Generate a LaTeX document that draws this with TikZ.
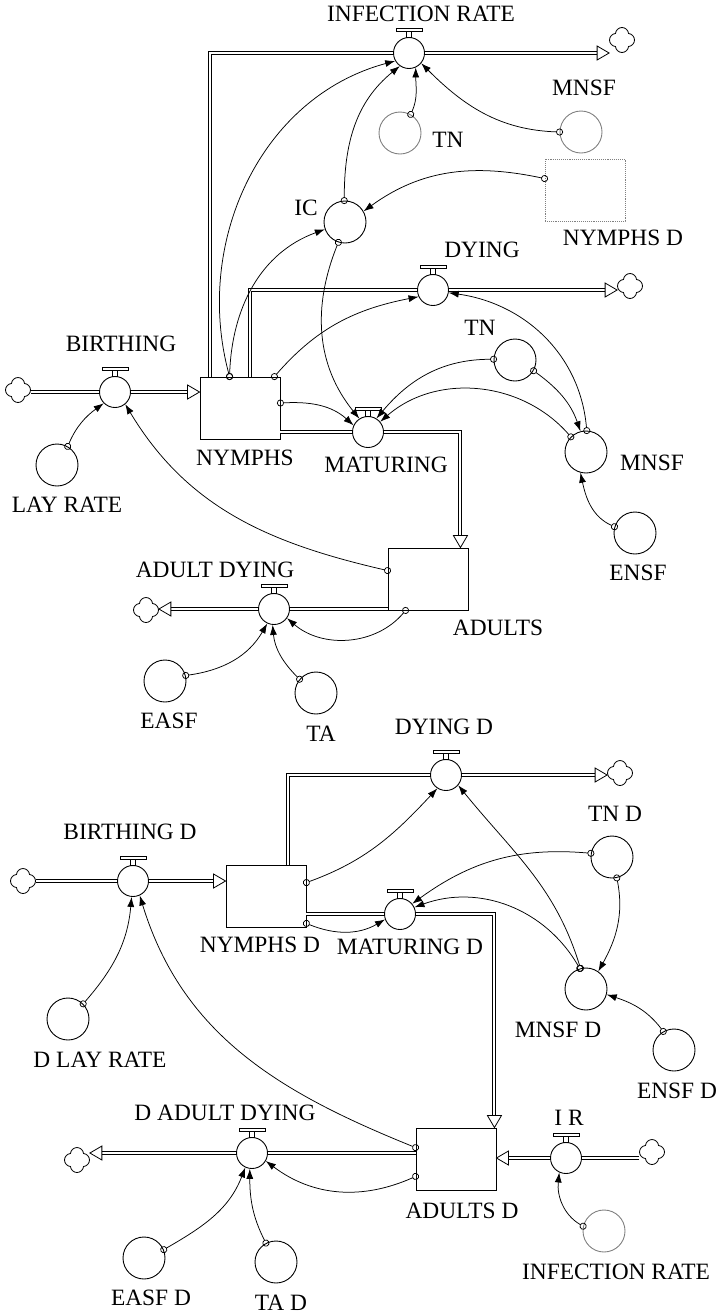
\documentclass[tikz,border=0pt]{standalone}
\usepackage{fontspec}
\setmainfont{Liberation Serif}
\usepackage{tikz}
\usetikzlibrary{arrows.meta, calc, positioning, shapes.geometric, shapes.symbols, decorations.markings}

\tikzset{
  valve/.style={circle, draw, fill=white, line width=0.9pt, minimum size=31pt, inner sep=0pt},
  aux/.style={circle, draw, line width=0.9pt, minimum size=42pt, inner sep=0pt},
  shadowaux/.style={aux, draw=gray},
  stock/.style={rectangle, draw, fill=white, line width=0.9pt, minimum width=80pt, minimum height=62pt, inner sep=0pt},
  shadowstock/.style={stock, draw=gray, densely dotted},
  sink/.style={cloud, cloud puffs=4, cloud puff arc=170, aspect=1, shape border rotate=45, draw, line width=0.8pt, minimum width=25pt, minimum height=25pt, inner sep=0pt},
  pipe/.style={double, double distance=2pt, line width=1pt},
  flowto/.style={shorten >=6pt, postaction={decorate, decoration={markings, mark=at position 1 with {\draw[draw=black, fill=white, line width=0.8pt, shorten >=0pt, shorten <=0pt] (-12pt,-7pt) -- (0pt,0pt) -- (-12pt,7pt) -- cycle;}}}},
  link/.style={{Circle[open, length=7pt, width=7pt]}-{Latex[length=10pt, width=7pt]}, line width=0.75pt, shorten <=-3.5pt}
}

\begin{document}
\begin{tikzpicture}[x=1pt, y=-1pt, font=\fontsize{23.4}{28}\selectfont]
\useasboundingbox (0, 0) rectangle (720, 1315);

\node[valve] (infr) at (409, 53) {};
\node[sink] (cl2) at (622, 40) {};
\node[shadowaux] (tnG) at (400, 133) {};
\node[shadowaux] (mnsfG) at (581, 132) {};
\node[shadowstock] (nymDG) at (585, 190) {};
\node[aux] (ic) at (345, 222) {};
\node[valve] (dyi) at (433, 290) {};
\node[sink] (cl3) at (630, 286) {};
\node[sink] (cl1) at (18, 390) {};
\node[valve] (birth) at (115, 392) {};
\node[stock] (nym) at (240, 408) {};
\node[aux] (lay) at (57, 465) {};
\node[valve] (mat) at (368, 432) {};
\node[aux] (tn) at (515, 360) {};
\node[aux] (mnsf) at (586, 452) {};
\node[aux] (ensf) at (635, 533) {};
\node[stock] (adu) at (428, 579) {};
\node[valve] (ady) at (274, 609) {};
\node[sink] (cl4) at (146, 610) {};
\node[aux] (easf) at (165, 681) {};
\node[aux] (ta) at (316, 693) {};

\node[valve] (dyiD) at (446, 775) {};
\node[sink] (cl5) at (620, 773) {};
\node[stock] (nymD) at (266, 896) {};
\node[valve] (birthD) at (133, 881) {};
\node[sink] (cl6) at (23, 881) {};
\node[aux] (layD) at (68, 1019) {};
\node[valve] (matD) at (400, 914) {};
\node[aux] (tnD) at (612, 857) {};
\node[aux] (mnsfD) at (586, 989) {};
\node[aux] (ensfD) at (674, 1050) {};
\node[stock] (aduD) at (456, 1159) {};
\node[valve] (ir) at (566, 1158) {};
\node[sink] (cl7) at (652, 1152) {};
\node[shadowaux] (infrG) at (604, 1231) {};
\node[valve] (adyD) at (252, 1153) {};
\node[sink] (cl8) at (77, 1160) {};
\node[aux] (easfD) at (144, 1258) {};
\node[aux] (taD) at (276, 1262) {};

\node (tInfr) at (421, 14) {INFECTION RATE};
\node (tTnG) at (448, 140) {TN};
\node (tMnsfG) at (584, 88) {MNSF};
\node (tNymDG) at (623, 238) {NYMPHS D};
\node (tIc) at (306, 208) {IC};
\node (tDyi) at (482, 250) {DYING};
\node (tBirth) at (121, 344) {BIRTHING};
\node (tNym) at (245, 458) {NYMPHS};
\node (tLay) at (67, 505) {LAY RATE};
\node (tTn) at (480, 328) {TN};
\node (tMat) at (386, 465) {MATURING};
\node (tMnsf) at (652, 463) {MNSF};
\node (tEnsf) at (638, 573) {ENSF};
\node (tAdu) at (498, 628) {ADULTS};
\node (tAdy) at (215, 570) {ADULT DYING};
\node (tEasf) at (169, 721) {EASF};
\node (tTa) at (321, 734) {TA};

\node (tDyiD) at (444, 727) {DYING D};
\node (tBirthD) at (130, 832) {BIRTHING D};
\node (tNymD) at (260, 945) {NYMPHS D};
\node (tMatD) at (410, 947) {MATURING D};
\node (tTnD) at (615, 814) {TN D};
\node (tMnsfD) at (558, 1030) {MNSF D};
\node (tEnsfD) at (677, 1091) {ENSF D};
\node (tLayD) at (100, 1060) {D LAY RATE};
\node (tIr) at (569, 1118) {I R};
\node (tAduD) at (462, 1211) {ADULTS D};
\node (tAdyD) at (225, 1113) {D ADULT DYING};
\node (tInfrG) at (616, 1272) {INFECTION RATE};
\node (tEasfD) at (151, 1298) {EASF D};
\node (tTaD) at (281, 1303) {TA D};

\draw[pipe] (cl1.east |- birth.west) -- (birth.west);
\draw[pipe, flowto] (birth.east) -- (nym.west |- birth.east);
\draw[pipe] ([xshift=10pt]nym.north west) |- (infr.west);
\draw[pipe, flowto] (infr.east) -- (cl2.west |- infr.east);
\draw[pipe] ([xshift=50pt]nym.north west) |- (dyi.west);
\draw[pipe, flowto] (dyi.east) -- (cl3.west |- dyi.east);
\draw[pipe] (nym.east |- mat.west) -- (mat.west);
\draw[pipe, flowto] (mat.east) -| ([xshift=-8pt]adu.north east);
\draw[pipe] (adu.west |- ady.east) -- (ady.east);
\draw[pipe, flowto] (ady.west) -- (cl4.east |- ady.west);

\draw[pipe] (cl6.east |- birthD.west) -- (birthD.west);
\draw[pipe, flowto] (birthD.east) -- (nymD.west |- birthD.east);
\draw[pipe] ([xshift=62pt]nymD.north west) |- (dyiD.west);
\draw[pipe, flowto] (dyiD.east) -- (cl5.west |- dyiD.east);
\draw[pipe] (nymD.east |- matD.west) -- (matD.west);
\draw[pipe, flowto] (matD.east) -| ([xshift=-2pt]aduD.north east);
\draw[pipe] (cl7.west |- ir.east) -- (ir.east);
\draw[pipe, flowto] (ir.west) -- (aduD.east |- ir.west);
\draw[pipe] (aduD.west |- adyD.east) -- (adyD.east);
\draw[pipe, flowto] (adyD.west) -- (cl8.east |- adyD.west);

\foreach \v in {infr, dyi, birth, mat, ady, dyiD, birthD, matD, ir, adyD}
  \draw[line width=0.7pt, fill=white] ([xshift=-2.5pt]\v.north) rectangle ([xshift=2.5pt, yshift=6pt]\v.north)
    ([xshift=-13pt, yshift=6pt]\v.north) rectangle ([xshift=13pt, yshift=9pt]\v.north);

\draw[link] ([xshift=30pt]nym.north west) to[out=105, in=195] (infr.210);
\draw[link] ([xshift=30pt]nym.north west) to[out=88, in=200] (ic.200);
\draw[link] (ic.92) to[out=90, in=219] (infr.235);
\draw[link] (tnG.60) to[out=66, in=270] (infr.295);
\draw[link] (mnsfG.180) to[out=178, in=315] (infr.320);
\draw[link] ([yshift=-20pt]nymDG.north west) to[out=168, in=36] (ic.30);
\draw[link] (ic.252) to[out=248, in=129] (mat.123);
\draw[link] ([yshift=5pt]nym.east) to[out=3, in=138] (mat.155);
\draw[link] ([xshift=-6pt]nym.north east) to[out=49, in=191] (dyi.205);
\draw[link] (tn.178) to[out=180, in=50] (mat.58);
\draw[link] (mnsf.135) to[out=131, in=41] (mat.40);
\draw[link] (tn.330) to[out=324, in=109] (mnsf.105);
\draw[link] (mnsf.88) to[out=95, in=352] (dyi.350);
\draw[link] (ensf.163) to[out=156, in=282] (mnsf.255);
\draw[link] (lay.60) to[out=67, in=216] (birth.225);
\draw[link] ([yshift=-23pt]adu.north west) to[out=167, in=301] (birth.310);
\draw[link] ([xshift=18pt]adu.south west) to[out=230, in=319] (ady.325);
\draw[link] (easf.15) to[out=8, in=240] (ady.245);
\draw[link] (ta.140) to[out=135, in=275] (ady.265);

\draw[link] ([yshift=-18pt]nymD.north east) to[out=20, in=227] (dyiD.237);
\draw[link] ([yshift=4pt]nymD.south east) to[out=338, in=210] (matD.200);
\draw[link] (tnD.170) to[out=175, in=36] (matD.40);
\draw[link] (mnsfD.107) to[out=120, in=20] (matD.25);
\draw[link] (mnsfD.105) to[out=107, in=309] (dyiD.320);
\draw[link] (tnD.283) to[out=281, in=61] (mnsfD.55);
\draw[link] (ensfD.120) to[out=127, in=342] (mnsfD.345);
\draw[link] (layD.45) to[out=49, in=265] (birthD.265);
\draw[link] ([yshift=-20pt]aduD.north west) to[out=158, in=287] (birthD.295);
\draw[link] ([yshift=14pt]aduD.south west) to[out=204, in=323] (adyD.330);
\draw[link] (easfD.23) to[out=30, in=249] (adyD.245);
\draw[link] (taD.118) to[out=117, in=270] (adyD.262);
\draw[link] (infrG.167) to[out=150, in=264] (ir.245);
\end{tikzpicture}
\end{document}
